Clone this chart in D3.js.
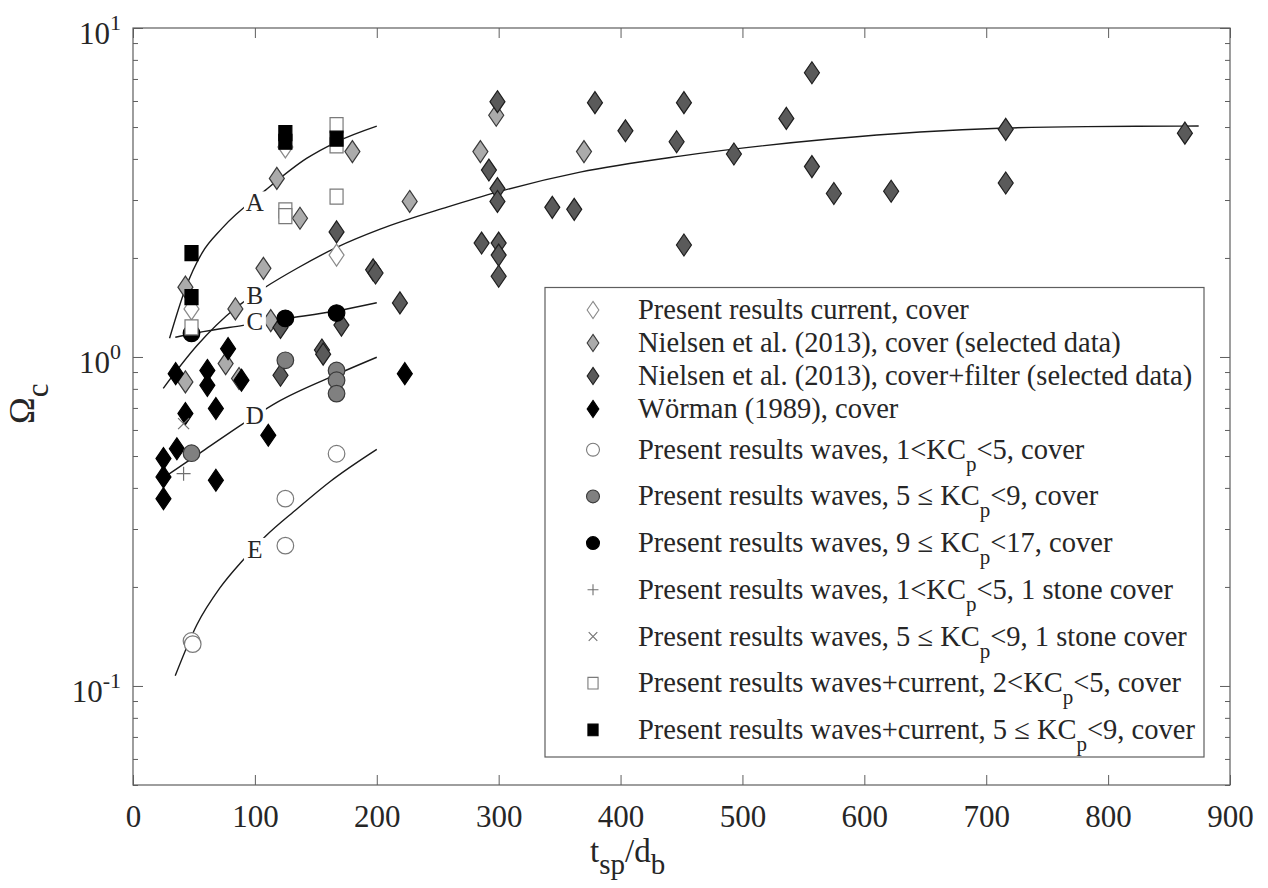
<!DOCTYPE html>
<html>
<head>
<meta charset="utf-8">
<script src="https://cdn.jsdelivr.net/npm/d3@7"></script>
<style>
  body { margin: 0; background: #fff; }
  svg { display: block; }
  text { font-family: 'Liberation Serif', 'Times New Roman', serif; fill: #262626; }
</style>
</head>
<body>
<div id="chart"></div>
<script>
const width = 1268;
const height = 888;

// tick values
const xTicks = [0, 100, 200, 300, 400, 500, 600, 700, 800, 900];
const yMajor = [0.1, 1, 10];
const yLabels = ['-1', '0', '1'];

// measured points [t_sp/d_b, Omega_c]
const presentCurrent = [[48, 1.40], [125, 4.35], [167, 2.04]];
const nielsenCover = [[43, 1.63], [43, 0.84], [76, 0.955], [84, 1.40], [87, 0.86], [107, 1.86], [113, 1.29],
  [118, 3.49], [137, 2.64], [180, 4.21], [227, 2.97], [285, 4.21], [298, 5.43], [370, 4.21]];
const nielsenFilter = [[121, 1.23], [121, 0.88], [155, 1.05], [156, 1.02], [167, 2.40], [171, 1.25], [197, 1.84],
  [199, 1.80], [219, 1.46], [286, 2.22], [292, 3.70], [299, 3.25], [299, 2.97], [299, 5.97], [300, 2.22],
  [300, 2.04], [300, 1.76], [344, 2.85], [362, 2.81], [379, 5.93], [404, 4.87], [446, 4.51], [452, 5.93],
  [452, 2.19], [493, 4.14], [536, 5.31], [557, 7.31], [557, 3.79], [575, 3.14], [622, 3.19], [716, 4.92],
  [716, 3.38], [863, 4.79]];
const worman = [[25, 0.491], [25, 0.432], [25, 0.371], [35, 0.89], [36, 0.526], [43, 0.673], [61, 0.91],
  [61, 0.82], [68, 0.697], [68, 0.422], [78, 1.06], [89, 0.85], [111, 0.578], [223, 0.89]];
const wavesKc1 = [[48, 0.137], [49, 0.134], [125, 0.371], [125, 0.267], [167, 0.508]];
const wavesKc5 = [[48, 0.51], [125, 0.977], [167, 0.91], [167, 0.85], [167, 0.774]];
const wavesKc9 = [[48, 1.18], [125, 1.31], [167, 1.36]];
const stoneKc1 = [[41.5, 0.442]];
const stoneKc5 = [[41.5, 0.627]];
const wavesCurrentKc2 = [[48, 1.23], [125, 2.79], [125, 2.68], [167, 5.07], [167, 4.40], [167, 3.07]];
const wavesCurrentKc5 = [[48, 2.07], [48, 1.52], [125, 4.79], [125, 4.51], [167, 4.61]];

// fitted curves
const curveA = [[30, 1.14], [42.9, 1.61], [56.6, 2.07], [73, 2.46], [108.5, 3.21], [142.7, 4.02],
  [167.3, 4.51], [200, 5.03]];
const curveB = [[24.8, 0.803], [52.7, 1.085], [83.9, 1.406], [108.5, 1.629], [134.7, 1.861], [167.5, 2.157],
  [202.8, 2.446], [257.7, 2.854], [298.7, 3.17], [366.8, 3.647], [448.8, 4.079], [571.8, 4.596],
  [645.6, 4.827], [716.1, 4.964], [782.4, 5.016], [874.3, 5.034]];
const curveC = [[34.7, 1.148], [52.7, 1.185], [90.4, 1.248], [124.8, 1.307], [167.5, 1.382], [200, 1.462]];
const curveD = [[27.9, 0.4365], [59.3, 0.5238], [90.7, 0.6285], [118.1, 0.7282], [167.3, 0.8857], [200, 0.998]];
const curveE = [[34.7, 0.1075], [52.5, 0.1537], [71.6, 0.1993], [90.7, 0.2424], [108.5, 0.2847],
  [134.5, 0.3452], [161.8, 0.4184], [200, 0.5238]];
const curveNames = ['A', 'B', 'C', 'D', 'E'];
const curveLabelPos = [[100, 2.95], [100, 1.54], [100, 1.29], [100, 0.665], [100, 0.261]];

const legendLabels = [
  'Present results current, cover',
  'Nielsen et al. (2013), cover (selected data)',
  'Nielsen et al. (2013), cover+filter (selected data)',
  'Wörman (1989), cover',
  'Present results waves, 1<KC_p<5, cover',
  'Present results waves, 5 ≤ KC_p<9, cover',
  'Present results waves, 9 ≤ KC_p<17, cover',
  'Present results waves, 1<KC_p<5, 1 stone cover',
  'Present results waves, 5 ≤ KC_p<9, 1 stone cover',
  'Present results waves+current, 2<KC_p<5, cover',
  'Present results waves+current, 5 ≤ KC_p<9, cover',
];

const series = [
  {data: presentCurrent, shape: 'diamond', fill: '#fff', stroke: '#8a8a8a'},
  {data: nielsenCover, shape: 'diamond', fill: '#ababab', stroke: '#3a3a3a'},
  {data: nielsenFilter, shape: 'diamond', fill: '#5a5a5a', stroke: '#1e1e1e'},
  {data: worman, shape: 'diamond', fill: '#000', stroke: '#000'},
  {data: wavesKc1, shape: 'circle', fill: '#fff', stroke: '#7a7a7a'},
  {data: wavesKc5, shape: 'circle', fill: '#808080', stroke: '#3a3a3a'},
  {data: wavesKc9, shape: 'circle', fill: '#000', stroke: '#000'},
  {data: stoneKc1, shape: 'plus', fill: 'none', stroke: '#707070'},
  {data: stoneKc5, shape: 'cross', fill: 'none', stroke: '#707070'},
  {data: wavesCurrentKc2, shape: 'square', fill: '#fff', stroke: '#7a7a7a'},
  {data: wavesCurrentKc5, shape: 'square', fill: '#000', stroke: '#000'},
];

const plot = {left: 133, right: 1230, top: 28, bottom: 785};

const x = d3.scaleLinear().domain([0, 900]).range([plot.left, plot.right]);
const y = d3.scaleLog().domain([0.05, 10]).range([plot.bottom, plot.top]);

function markerPath(shape, s) {
  switch (shape) {
  case 'diamond': {
    const w = 7.5 * s, h = 11 * s;
    return `M0,${-h}L${w},0L0,${h}L${-w},0Z`;
  }
  case 'circle': {
    const p = d3.path();
    p.arc(0, 0, 8.3 * s, 0, 2 * Math.PI);
    p.closePath();
    return p.toString();
  }
  case 'square': {
    const w = 6.5 * s, h = 7.5 * s;
    return `M${-w},${-h}H${w}V${h}H${-w}Z`;
  }
  case 'plus': {
    const a = 7 * s;
    return `M${-a},0H${a}M0,${-a}V${a}`;
  }
  case 'cross': {
    const a = 5.5 * s;
    return `M${-a},${-a}L${a},${a}M${-a},${a}L${a},${-a}`;
  }
  default:
    return '';
  }
}

const svg = d3.select('#chart').append('svg')
  .attr('width', width)
  .attr('height', height);

// ticks (inward, on all four sides)
const axisColor = '#5e5e5e';
const minorTicks = y.ticks().filter((v)=>!yMajor.some((m)=>Math.abs(m - v) < 1e-9));

const axes = svg.append('g');
axes.append('g')
  .attr('transform', `translate(0,${plot.bottom})`)
  .call(d3.axisBottom(x).tickValues(xTicks).tickSizeInner(-10).tickSizeOuter(0).tickPadding(20));
axes.append('g')
  .attr('transform', `translate(0,${plot.top})`)
  .call(d3.axisTop(x).tickValues(xTicks).tickSizeInner(-10).tickSizeOuter(0).tickFormat(''));
[[d3.axisLeft, plot.left], [d3.axisRight, plot.right]].forEach(([axisFn, pos])=>{
  axes.append('g')
    .attr('transform', `translate(${pos},0)`)
    .call(axisFn(y).tickValues(minorTicks).tickSizeInner(-5).tickSizeOuter(0).tickFormat(''));
  axes.append('g')
    .attr('transform', `translate(${pos},0)`)
    .call(axisFn(y).tickValues(yMajor).tickSizeInner(-10).tickSizeOuter(0).tickFormat(''));
});
axes.selectAll('.domain').remove();
axes.selectAll('line').attr('stroke', axisColor);
axes.selectAll('g').attr('font-family', null).attr('font-size', null);
axes.selectAll('text').attr('font-size', 31).attr('fill', '#262626');

// y tick labels 10^n
const yLab = svg.append('g')
  .selectAll('text')
  .data(yMajor)
  .join('text')
  .attr('x', 121)
  .attr('y', (d)=>y(d) + 16)
  .attr('text-anchor', 'end')
  .attr('font-size', 31)
  .text('10');
yLab.append('tspan')
  .attr('dy', -14)
  .attr('font-size', 22)
  .text((d, i)=>yLabels[i]);

// frame
svg.append('rect')
  .attr('x', plot.left)
  .attr('y', plot.top)
  .attr('width', plot.right - plot.left)
  .attr('height', plot.bottom - plot.top)
  .attr('fill', 'none')
  .attr('stroke', axisColor)
  .attr('stroke-width', 1.2);

// fitted curves
const line = d3.line()
  .x((d)=>x(d[0]))
  .y((d)=>y(d[1]))
  .curve(d3.curveMonotoneX);

svg.append('g')
  .selectAll('path')
  .data([curveA, curveB, curveC, curveD, curveE])
  .join('path')
  .attr('d', line)
  .attr('fill', 'none')
  .attr('stroke', '#1a1a1a')
  .attr('stroke-width', 1.4);

// markers
series.forEach((s)=>{
  svg.append('g')
    .selectAll('path')
    .data(s.data)
    .join('path')
    .attr('transform', (d)=>`translate(${x(d[0])},${y(d[1])})`)
    .attr('d', markerPath(s.shape, 1))
    .attr('fill', s.fill)
    .attr('stroke', s.stroke)
    .attr('stroke-width', 1.2);
});

// curve labels with white background
const labels = svg.append('g')
  .selectAll('g')
  .data(curveNames)
  .join('g')
  .attr('transform', (d, i)=>`translate(${x(curveLabelPos[i][0])},${y(curveLabelPos[i][1])})`);
labels.append('rect')
  .attr('x', -11)
  .attr('y', -11)
  .attr('width', 22)
  .attr('height', 22)
  .attr('fill', '#fff');
labels.append('text')
  .attr('text-anchor', 'middle')
  .attr('y', 9)
  .attr('font-size', 25)
  .text((d)=>d);

// legend
const legend = svg.append('g');
legend.append('rect')
  .attr('x', 545)
  .attr('y', 287.5)
  .attr('width', 659)
  .attr('height', 469.5)
  .attr('fill', '#fff')
  .attr('stroke', axisColor)
  .attr('stroke-width', 1.2);

const rowY = (i)=>i < 4 ? 310 + i * 33 : 449.7 + (i - 4) * 46.7;

legend.selectAll('path')
  .data(series)
  .join('path')
  .attr('transform', (d, i)=>`translate(593,${rowY(i)})`)
  .attr('d', (d)=>markerPath(d.shape, 0.78))
  .attr('fill', (d)=>d.fill)
  .attr('stroke', (d)=>d.stroke)
  .attr('stroke-width', 1.1);

const legendText = legend.selectAll('text')
  .data(legendLabels)
  .join('text')
  .attr('x', 638)
  .attr('y', (d, i)=>rowY(i) + 9)
  .attr('font-size', 28.5);
legendText.each(function(d) {
  const parts = d.split('_p');
  const t = d3.select(this);
  t.append('tspan').text(parts[0]);
  if (parts.length > 1) {
    t.append('tspan').attr('dy', 12).attr('font-size', 21).text('p');
    t.append('tspan').attr('dy', -12).text(parts[1]);
  }
});

// axis titles
const xTitle = svg.append('text')
  .attr('x', 590)
  .attr('y', 862)
  .attr('font-size', 33);
xTitle.append('tspan').text('t');
xTitle.append('tspan').attr('dy', 12).attr('font-size', 29).text('sp');
xTitle.append('tspan').attr('dy', -12).text('/d');
xTitle.append('tspan').attr('dy', 12).attr('font-size', 29).text('b');

const yTitle = svg.append('text')
  .attr('transform', 'translate(34,424) rotate(-90)')
  .attr('font-size', 36);
yTitle.append('tspan').text('Ω');
yTitle.append('tspan').attr('dy', 14).attr('font-size', 31).text('c');
</script>
</body>
</html>
